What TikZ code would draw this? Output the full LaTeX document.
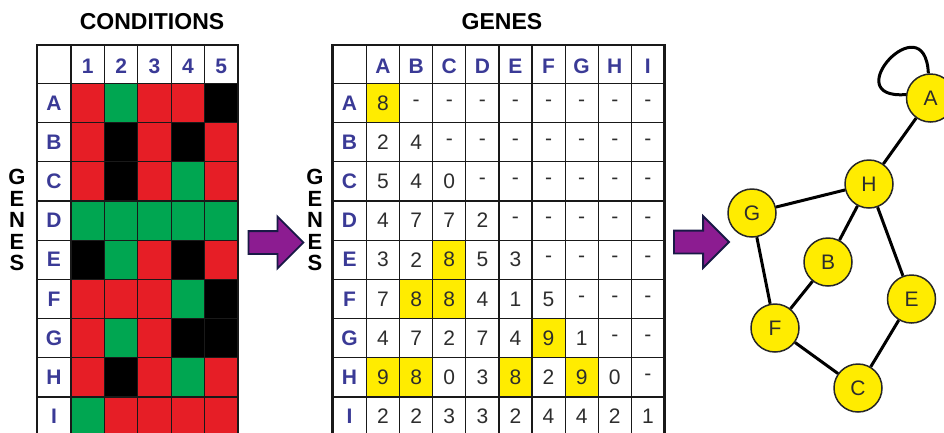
\documentclass[tikz,border=0pt]{standalone}
\usepackage{fontspec}
\setmainfont{Liberation Sans}
\usetikzlibrary{shapes.arrows}
\definecolor{cred}{RGB}{230,30,38}
\definecolor{cgreen}{RGB}{0,166,81}
\definecolor{cyel}{RGB}{255,236,0}
\definecolor{clab}{RGB}{58,58,150}
\definecolor{cnum}{RGB}{45,45,45}
\definecolor{cpurple}{RGB}{140,28,145}
\definecolor{cedge}{RGB}{25,25,70}
\tikzset{
  grid/.style={draw=black!90,line width=1.2pt},
  frame/.style={draw=black!90,line width=2.6pt},
  lab/.style={font=\fontsize{21}{21}\selectfont\bfseries,text=clab},
  num/.style={font=\fontsize{21}{21}\selectfont,text=cnum},
  title/.style={font=\fontsize{23}{23}\selectfont\bfseries},
  side/.style={font=\fontsize{22}{22}\selectfont\bfseries,inner sep=0pt},
  gene/.style={circle,draw=black!85,line width=1.5pt,fill=cyel,minimum size=48pt,inner sep=0pt,font=\fontsize{21}{21}\selectfont,text=cnum},
  link/.style={line width=3pt},
  bigarrow/.style={single arrow,draw=cedge,line width=1.8pt,fill=cpurple,inner sep=10.5pt,minimum height=55pt,single arrow head extend=14.5pt}
}
\begin{document}
\begin{tikzpicture}[x=1pt,y=-1pt]
    \useasboundingbox (0,0) rectangle (944,432);
    \node[title] (condtitle) at (152,22) {CONDITIONS};
    \node[title] (genetitle) at (502,22) {GENES};
    \foreach \l [count=\i] in {G,E,N,E,S} {
        \node[side] (sideL\i) at (17,{155.5+21.5*\i}) {\l};
        \node[side] (sideM\i) at (315,{155.5+21.5*\i}) {\l};
    }

    \foreach \vals [count=\r] in {{cred,cgreen,cred,cred,black},{cred,black,cred,black,cred},
        {cred,black,cred,cgreen,cred},{cgreen,cgreen,cgreen,cgreen,cgreen},
        {black,cgreen,cred,black,cred},{cred,cred,cred,cgreen,black},
        {cred,cgreen,cred,black,black},{cred,black,cred,cgreen,cred},
        {cgreen,cred,cred,cred,cred}}
        \foreach \c [count=\k] in \vals
            \fill[\c] ({71+33.4*(\k-1)},{83.3+39.2*(\r-1)}) rectangle +(33.4,39.2);
    \foreach \k in {0,...,5} \draw[grid] ({71+33.4*\k},45) -- ({71+33.4*\k},436);
    \foreach \r in {0,...,9} \draw[grid] (37,{83.3+39.2*\r}) -- (238,{83.3+39.2*\r});
    \draw[frame] (37,436) -- (37,45) -- (238,45) -- (238,436);
    \foreach \l [count=\r] in {A,B,C,D,E,F,G,H,I}
        \node[lab] (lrow\l) at (54,{83.3+39.2*(\r-0.5)}) {\l};
    \foreach \l in {1,...,5}
        \node[lab] (lcol\l) at ({71+33.4*(\l-0.5)},66) {\l};

    \foreach \r/\k in {1/1,5/3,6/2,6/3,7/6,8/1,8/2,8/5,8/7}
        \fill[cyel] ({366.5+33.1*(\k-1)},{83.3+39.2*(\r-1)}) rectangle +(33.1,39.2);
    \foreach \vals [count=\r] in {{8,-,-,-,-,-,-,-,-},{2,4,-,-,-,-,-,-,-},
        {5,4,0,-,-,-,-,-,-},{4,7,7,2,-,-,-,-,-},{3,2,8,5,3,-,-,-,-},
        {7,8,8,4,1,5,-,-,-},{4,7,2,7,4,9,1,-,-},{9,8,0,3,8,2,9,0,-},
        {2,2,3,3,2,4,4,2,1}}
        \foreach \v [count=\k] in \vals
            \node[num] (m\r-\k) at ({366.5+33.1*(\k-0.5)},{83.3+39.2*(\r-0.5)}) {\v};
    \foreach \k in {0,...,9} \draw[grid] ({366.5+33.1*\k},45) -- ({366.5+33.1*\k},436);
    \foreach \r in {0,...,9} \draw[grid] (332.5,{83.3+39.2*\r}) -- (664.4,{83.3+39.2*\r});
    \draw[frame] (332.5,436) -- (332.5,45) -- (664.4,45) -- (664.4,436);
    \foreach \l [count=\r] in {A,B,C,D,E,F,G,H,I} {
        \node[lab] (mrow\l) at (349.5,{83.3+39.2*(\r-0.5)}) {\l};
        \node[lab] (mcol\l) at ({366.5+33.1*(\r-0.5)},66) {\l};
    }

    \node[bigarrow] (arrL) at (270.2,242.5) {};
    \node[bigarrow] (arrR) at (695.8,242) {};

    \node[gene] (A) at (930.5,98) {A};
    \node[gene] (H) at (869,184) {H};
    \node[gene] (G) at (752,213) {G};
    \node[gene] (B) at (828,262) {B};
    \node[gene] (E) at (911.5,299) {E};
    \node[gene] (F) at (775,328) {F};
    \node[gene] (C) at (858,388) {C};
    \draw[link] (A) -- (H) (H) -- (G) (H) -- (B) (H) -- (E)
        (G) -- (F) (B) -- (F) (F) -- (C) (C) -- (E);
    \draw[link] (A.172) .. controls (835,100) and (925,2) .. (A.95);
\end{tikzpicture}
\end{document}
